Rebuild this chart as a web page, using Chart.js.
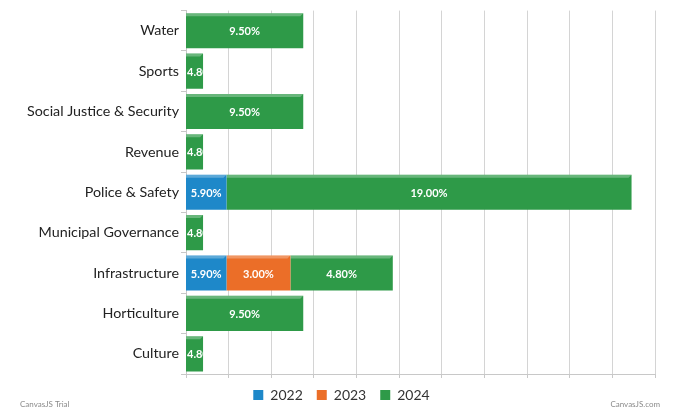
<!DOCTYPE html>
<html>
<head>
<meta charset="utf-8">
<script src="https://cdn.jsdelivr.net/npm/chart.js@4.4.1/dist/chart.umd.min.js"></script>
<style>
  html, body { margin: 0; padding: 0; background: #ffffff; }
  #wrap { width: 678px; height: 417px; position: relative; }
</style>
</head>
<body>
<div id="wrap"><canvas id="c" width="678" height="417"></canvas></div>
<script>
const categories = ["Water", "Sports", "Social Justice & Security", "Revenue", "Police & Safety", "Municipal Governance", "Infrastructure", "Horticulture", "Culture"];
const seriesNames = ["2022", "2023", "2024"];
const values2022 = [null, null, null, null, 5.9, null, 5.9, null, null];
const values2023 = [null, null, null, null, null, null, 3.0, null, null];
const values2024 = [9.5, 4.8, 9.5, 4.8, 19.0, 4.8, 4.8, 9.5, 4.8];
const xMin = 4, xMax = 26, xStep = 2;

const colors = ["#1E88C9", "#EB6E28", "#2E9A48"];
const FONT = "Lato, 'Open Sans', sans-serif";

const barLabels = {
  id: 'barLabels',
  afterDatasetsDraw(chart) {
    const ctx = chart.ctx;
    const area = chart.chartArea;
    ctx.save();
    ctx.font = "bold 11px " + FONT;
    ctx.fillStyle = "#ffffff";
    ctx.textBaseline = "middle";
    chart.data.datasets.forEach((ds, di) => {
      const meta = chart.getDatasetMeta(di);
      meta.data.forEach((el, i) => {
        const v = ds.data[i];
        if (v === null || v === undefined) return;
        const p = el.getProps(['x', 'y', 'base', 'height'], true);
        const left = Math.max(Math.min(p.base, p.x), area.left);
        const right = Math.min(Math.max(p.base, p.x), area.right);
        const w = right - left;
        if (w <= 0) return;
        const h = p.height;
        const top = p.y - h / 2;
        ctx.save();
        ctx.fillStyle = "rgba(255,255,255,0.28)";
        ctx.beginPath();
        ctx.moveTo(left, top);
        ctx.lineTo(right, top);
        ctx.lineTo(right - 3, top + 3);
        ctx.lineTo(left, top + 3);
        ctx.closePath();
        ctx.fill();
        ctx.restore();
        const txt = v.toFixed(2) + "%";
        const tw = ctx.measureText(txt).width;
        ctx.save();
        ctx.beginPath();
        ctx.rect(left, top, w, h);
        ctx.clip();
        if (tw + 4 <= w) {
          ctx.textAlign = "center";
          ctx.fillText(txt, left + w / 2, p.y + 1);
        } else {
          ctx.textAlign = "left";
          ctx.fillText(txt, left + 1, p.y + 1);
        }
        ctx.restore();
      });
    });
    ctx.restore();
  }
};

const watermark = {
  id: 'watermark',
  afterDraw(chart) {
    const ctx = chart.ctx;
    ctx.save();
    ctx.font = "8px " + FONT;
    ctx.fillStyle = "#8a8a8a";
    ctx.textBaseline = "middle";
    ctx.textAlign = "left";
    ctx.fillText("CanvasJS Trial", 20, 404);
    ctx.textAlign = "right";
    ctx.fillText("CanvasJS.com", 660, 404);
    ctx.restore();
  }
};

// shift the legend's band so its centred row sits under the chart like the reference
const legendShift = {
  id: 'legendShift',
  afterLayout(chart) {
    if (chart.legend) { chart.legend.left = 28; }
  }
};

new Chart(document.getElementById('c'), {
  type: 'bar',
  data: {
    labels: categories,
    datasets: [
      { label: seriesNames[0], data: values2022, backgroundColor: colors[0] },
      { label: seriesNames[1], data: values2023, backgroundColor: colors[1] },
      { label: seriesNames[2], data: values2024, backgroundColor: colors[2] }
    ]
  },
  options: {
    indexAxis: 'y',
    responsive: false,
    animation: false,
    devicePixelRatio: 1,
    layout: { padding: { left: 0, right: 23, top: 9, bottom: 5 } },
    datasets: { bar: { barPercentage: 0.87, categoryPercentage: 1.0, borderWidth: 0 } },
    scales: {
      x: {
        stacked: true,
        min: xMin, max: xMax,
        ticks: { stepSize: xStep, callback: () => '', padding: 0, font: { size: 1 } },
        grid: { color: "#d4d4d4", lineWidth: 1, tickLength: 4, tickColor: "#c8c8c8" },
        border: { display: true, color: "#c8c8c8" },
        afterFit(scale) { scale.height = 0; }
      },
      y: {
        stacked: true,
        ticks: { color: "#222222", font: { family: FONT, size: 14.3 }, padding: 2 },
        grid: { drawOnChartArea: false, drawTicks: true, tickLength: 5, tickColor: "#c8c8c8" },
        border: { display: true, color: "#c8c8c8" },
        afterFit(scale) { scale.width = 186; }
      }
    },
    plugins: {
      legend: {
        position: 'bottom',
        labels: {
          boxWidth: 10, boxHeight: 10, padding: 14,
          color: "#333333",
          font: { family: FONT, size: 14 }
        }
      },
      tooltip: { enabled: false }
    }
  },
  plugins: [barLabels, watermark, legendShift]
});
</script>
</body>
</html>
